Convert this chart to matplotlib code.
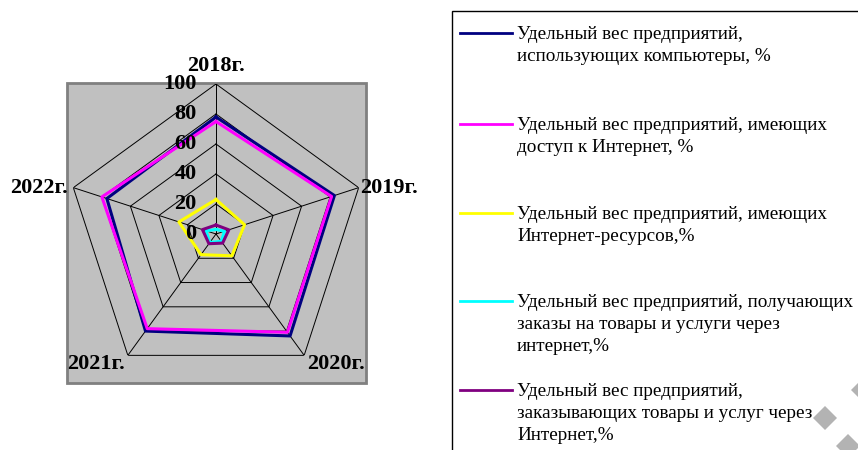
import numpy as np
import matplotlib.pyplot as plt
from matplotlib.patches import Rectangle, RegularPolygon
from matplotlib.lines import Line2D

# data: share of enterprises, % by year
years = ["2018г.", "2019г.", "2020г.", "2021г.", "2022г."]
computers = [78, 83, 84, 80, 76.5]
internet_access = [75, 81, 81, 78, 80]
web_resources = [23, 20, 18, 17, 26]
orders_received = [3, 6, 6, 7, 7]
orders_placed = [6, 9, 7.5, 8, 9.5]

labels = [
    "Удельный вес предприятий,\nиспользующих компьютеры, %",
    "Удельный вес предприятий, имеющих\nдоступ к Интернет, %",
    "Удельный вес предприятий, имеющих\nИнтернет-ресурсов,%",
    "Удельный вес предприятий, получающих\nзаказы на товары и услуги через\nинтернет,%",
    "Удельный вес предприятий,\nзаказывающих товары и услуг через\nИнтернет,%",
]
colors = ["#000080", "#FF00FF", "#FFFF00", "#00FFFF", "#800080"]
series = [computers, internet_access, web_resources, orders_received, orders_placed]
ticks = [0, 20, 40, 60, 80, 100]

W, H = 858, 450
fig = plt.figure(figsize=(W / 100, H / 100), dpi=100)
serif = "Liberation Serif"

# gray plot area
fig.patches.append(Rectangle((67 / W, 1 - 383 / H), 299 / W, 300 / H,
                             transform=fig.transFigure, facecolor="#C0C0C0",
                             edgecolor="#808080", linewidth=2, zorder=-1))

cx, cy, R = 216, 234, 150
ax = fig.add_axes([(cx - R) / W, (H - cy - R) / H, 2 * R / W, 2 * R / H],
                  projection="polar")
ax.set_zorder(2)
ax.patch.set_alpha(0)
ax.set_theta_zero_location("N")
ax.set_theta_direction(-1)
ax.set_ylim(0, 100)
ax.grid(False)
ax.spines["polar"].set_visible(False)
ax.set_xticks([])
ax.set_yticks([])

n = len(years)
ang = np.linspace(0, 2 * np.pi, n, endpoint=False)
ang_c = np.append(ang, ang[0])

# pentagon grid and spokes
for r in ticks[1:]:
    ax.plot(ang_c, [r] * (n + 1), color="black", lw=0.7, zorder=1)
for a in ang:
    ax.plot([a, a], [0, 100], color="black", lw=0.7, zorder=1)

for vals, c in zip(series, colors):
    ax.plot(ang_c, list(vals) + [vals[0]], color=c, lw=2.2, zorder=3)

# value labels along the first spoke
for t in ticks:
    ax.annotate(str(t), xy=(0, t), xytext=(-14, 0), textcoords="offset points",
                ha="right", va="center", fontsize=16, fontweight="bold",
                family=serif, zorder=4)

# category labels
offsets = [(0, 6, "center", "bottom"), (1, 0, "left", "center"),
           (2, 1, "left", "top"), (-2, 1, "right", "top"),
           (-4, 0, "right", "center")]
for a, y, (dx, dy, ha, va) in zip(ang, years, offsets):
    ax.annotate(y, xy=(a, 100), xytext=(dx, dy), textcoords="offset points",
                ha=ha, va=va, fontsize=16, fontweight="bold", family=serif)

# legend box
fig.patches.append(Rectangle((452 / W, -0.1), 0.6, 1 - 10.5 / H + 0.1,
                             transform=fig.transFigure, facecolor="white",
                             edgecolor="black", linewidth=1, zorder=-1))
starts = [33, 124, 213, 301, 390]
for lab, c, y in zip(labels, colors, starts):
    fig.add_artist(Line2D([460 / W, 512 / W], [1 - y / H] * 2, color=c, lw=2,
                          transform=fig.transFigure))
    fig.text(517 / W, 1 - (y - 7) / H, lab, ha="left", va="top", fontsize=13.8,
             family=serif, linespacing=1.4)

# watermark diamonds (pixel-sized)
for x, y in [(825, 418), (848, 446), (863, 390)]:
    fig.add_artist(RegularPolygon((x, H - y), 4, radius=12, orientation=0,
                                  transform=None, facecolor="#B3B3B3",
                                  edgecolor="none", zorder=5))

fig.savefig("out.png", dpi=100)
